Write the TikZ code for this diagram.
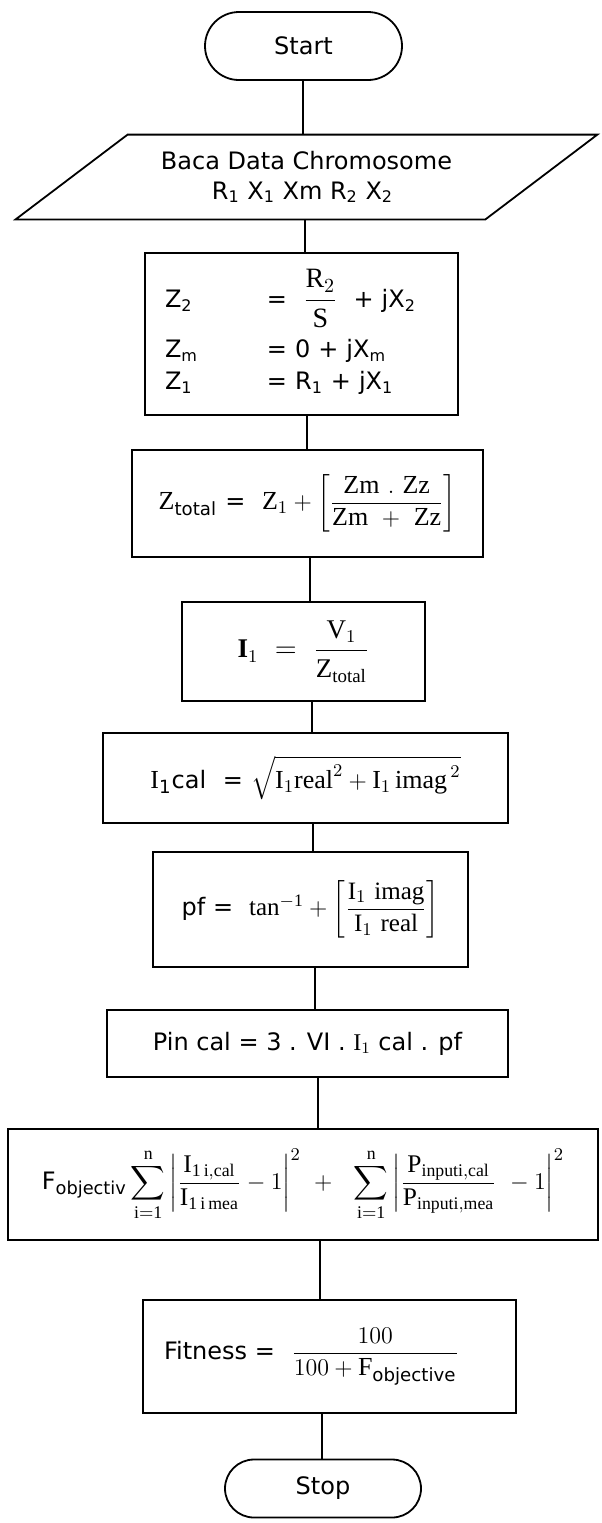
\documentclass[tikz,border=0pt]{standalone}
\usepackage{amsmath}
\usepackage{fontspec}
\setmainfont{Liberation Serif}
\newfontfamily\sanf{DejaVu Sans}
\newcommand\sa[1]{\text{\sanf #1}}
\newcommand\sab[1]{\mbox{\sanf\fontsize{12}{15}\selectfont #1}}
\tikzset{
  every node/.style={font=\sanf\fontsize{12}{15}\selectfont, inner sep=0pt},
  box/.style={draw, line width=0.9pt, align=center},
  term/.style={box},
  conn/.style={line width=0.9pt}
}
\begin{document}
\begin{tikzpicture}[x=0.5pt,y=-0.5pt]
\useasboundingbox (0,0) rectangle (601,1523);
% terminals and boxes
\node[term, minimum width=98.5pt, minimum height=34pt, rounded corners=17pt] (start) at (303.5,46) {Start};
\node[minimum width=234.5pt, minimum height=42pt, align=center] (para) at (306.5,177)
  {Baca Data Chromosome\\R\textsubscript{1} X\textsubscript{1} Xm R\textsubscript{2} X\textsubscript{2}\hspace*{4pt}};
\draw[conn] ([xshift=28pt]para.north west) -- ([xshift=28pt]para.north east)
  -- ([xshift=-28pt]para.south east) -- ([xshift=-28pt]para.south west) -- cycle;
\node[box, minimum width=156.5pt, minimum height=81pt, text width=136.5pt, align=left] (zbox) at (301.5,334)
  {\begin{tabular}{@{}l@{}l@{}}
   \makebox[51pt][l]{Z\textsubscript{2}} & = \ {\fontsize{14}{17}\selectfont$\dfrac{\mathrm{R}_2}{\mathrm{S}}$}\ \ + jX\textsubscript{2}\\[10pt]
   Z\textsubscript{m} & = 0 + jX\textsubscript{m}\\[1pt]
   Z\textsubscript{1} & = R\textsubscript{1} + jX\textsubscript{1}
   \end{tabular}};
\node[box, minimum width=175.5pt, minimum height=53.5pt, font=\sanf\fontsize{13}{16}\selectfont] (ztot) at (307.5,503.5)
  {$\mathrm{Z}_{\sa{total}}\ \sab{=}\ \ \mathrm{Z}_1 + \left[\dfrac{\mathrm{Zm}\ .\ \mathrm{Zz}}{\mathrm{Zm}\ +\ \mathrm{Zz}}\right]$};
\node[box, minimum width=121.5pt, minimum height=49.5pt, font=\sanf\fontsize{13.5}{16}\selectfont] (ione) at (303.5,651.5)
  {$\mathbf{I}_1\ =\ \dfrac{\mathrm{V}_1}{\mathrm{Z}_{\mathrm{total}}}$};
\node[box, minimum width=202.5pt, minimum height=45pt, font=\sanf\fontsize{13}{16}\selectfont] (ical) at (305.5,778)
  {$\mathrm{I}_{\sa{1}}\sab{cal}\ \ \sab{=}\ \sqrt{\mathrm{I}_1\mathrm{real}^2 + \mathrm{I}_1\,\mathrm{imag}^{\,2}}$};
\node[box, minimum width=157.5pt, minimum height=57.5pt, font=\sanf\fontsize{12.5}{15}\selectfont] (pf) at (310.5,909.5)
  {$\sab{pf}\ \sab{=}\ \ \mathrm{tan}^{\mathrm{-1}} + \left[\dfrac{\mathrm{I}_1\ \mathrm{imag}}{\mathrm{I}_1\ \mathrm{real}}\right]$};
\node[box, minimum width=200.5pt, minimum height=33.5pt] (pin) at (307.5,1043.5)
  {Pin cal = 3 . VI . $\mathrm{I}_1$ cal . pf};
\node[box, minimum width=295pt, minimum height=55.5pt, font=\sanf\fontsize{12.7}{15}\selectfont] (fobj) at (303,1184.5)
  {$\sab{F}_{\sa{objectiv}}\displaystyle\sum_{\mathrm{i=1}}^{\mathrm{n}}\left|\frac{\mathrm{I}_{\mathrm{1\,i,cal}}}{\mathrm{I}_{\mathrm{1\,i\,mea}}}-1\right|^2\ +\ \ \sum_{\mathrm{i=1}}^{\mathrm{n}}\left|\frac{\mathrm{P}_{\mathrm{inputi,cal}}}{\mathrm{P}_{\mathrm{inputi,mea}}}\ -1\right|^2$};
\node[box, minimum width=186.5pt, minimum height=56.5pt, font=\sanf\fontsize{13}{16}\selectfont] (fit) at (329.5,1356.5)
  {\sab{Fitness =}\ \ $\dfrac{100}{100+\mathrm{F}_{\sa{objective}}}$\hspace*{18pt}};
\node[term, minimum width=98pt, minimum height=29pt, rounded corners=14.5pt] (stop) at (323,1488.5) {Stop};
% connector x positions
\coordinate (c1) at (303,0);
\coordinate (c2) at (305,0);
\coordinate (c3) at (307,0);
\coordinate (c4) at (310,0);
\coordinate (c5) at (312,0);
\coordinate (c6) at (313,0);
\coordinate (c7) at (315,0);
\coordinate (c8) at (318,0);
\coordinate (c9) at (320,0);
\coordinate (c10) at (322,0);
\draw[conn] (start.south -| c1) -- (para.north -| c1);
\draw[conn] (para.south -| c2) -- (zbox.north -| c2);
\draw[conn] (zbox.south -| c3) -- (ztot.north -| c3);
\draw[conn] (ztot.south -| c4) -- (ione.north -| c4);
\draw[conn] (ione.south -| c5) -- (ical.north -| c5);
\draw[conn] (ical.south -| c6) -- (pf.north -| c6);
\draw[conn] (pf.south -| c7) -- (pin.north -| c7);
\draw[conn] (pin.south -| c8) -- (fobj.north -| c8);
\draw[conn] (fobj.south -| c9) -- (fit.north -| c9);
\draw[conn] (fit.south -| c10) -- (stop.north -| c10);
\end{tikzpicture}
\end{document}
